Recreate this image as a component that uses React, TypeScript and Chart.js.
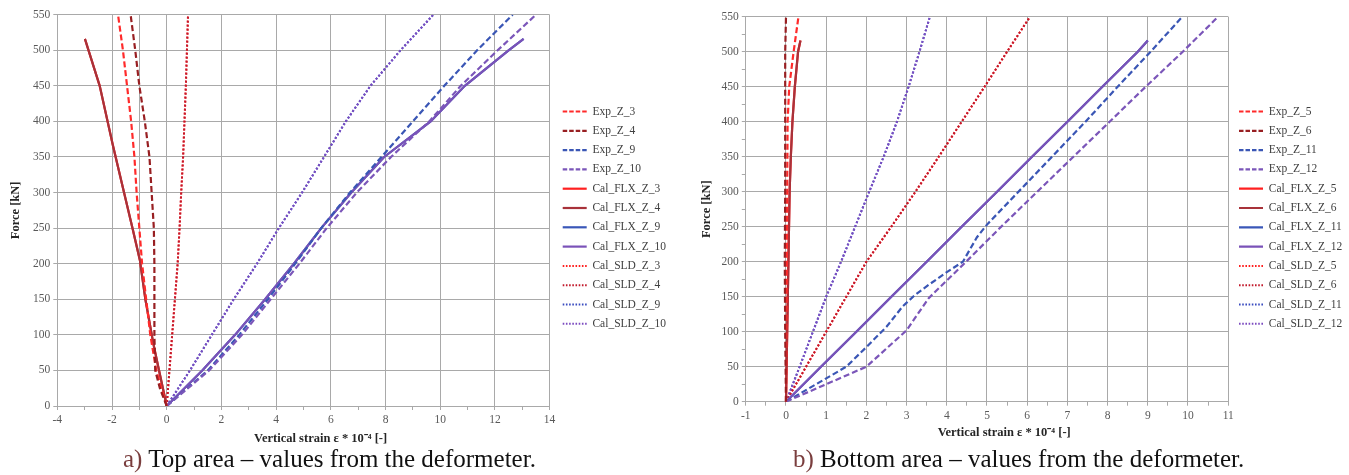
import React, { useEffect, useRef } from 'react';
import { Chart, registerables } from 'chart.js';

Chart.register(...registerables);

const FONT = "'Liberation Serif', 'Times New Roman', serif";

// ---------- tick labels ----------
const forceMajor = [0, 50, 100, 150, 200, 250, 300, 350, 400, 450, 500, 550];
const forceMinor = [25, 75, 125, 175, 225, 275, 325, 375, 425, 475, 525];
const topXMajor = [-4, -2, 0, 2, 4, 6, 8, 10, 12, 14];
const topXMinor = [-3, -1, 1, 3, 5, 7, 9, 11, 13];
const bottomXMajor = [-1, 0, 1, 2, 3, 4, 5, 6, 7, 8, 9, 10, 11];
const bottomXMinor = [-0.5, 0.5, 1.5, 2.5, 3.5, 4.5, 5.5, 6.5, 7.5, 8.5, 9.5, 10.5];

// ---------- a) Top area : [strain *10^-4, force kN] ----------
const topExpZ3: [number, number][] = [[0, 0], [-0.2, 25], [-0.38, 50], [-0.6, 100], [-0.75, 150], [-0.9, 200], [-1.0, 250], [-1.1, 300], [-1.18, 350], [-1.3, 400], [-1.45, 450], [-1.6, 500], [-1.78, 550]];
const topExpZ4: [number, number][] = [[0, 0], [-0.25, 25], [-0.42, 50], [-0.45, 100], [-0.45, 150], [-0.45, 200], [-0.47, 250], [-0.55, 300], [-0.63, 350], [-0.8, 400], [-1.0, 450], [-1.15, 500], [-1.32, 550]];
const topExpZ9: [number, number][] = [[0, 0], [1.5, 50], [2.65, 100], [3.7, 150], [4.7, 200], [5.65, 250], [6.7, 300], [7.85, 350], [9.0, 400], [10.15, 450], [11.35, 500], [12.65, 550]];
const topExpZ10: [number, number][] = [[0, 0], [1.55, 50], [2.75, 100], [3.8, 150], [4.85, 200], [5.85, 250], [6.95, 300], [8.2, 350], [9.6, 400], [10.75, 450], [12.1, 500], [13.5, 550]];
const topFlxZ3: [number, number][] = [[0, 0], [-0.28, 50], [-0.49, 88], [-0.78, 150], [-0.98, 205], [-1.25, 250], [-1.56, 300], [-1.97, 367], [-2.45, 450], [-2.99, 516]];
const topFlxZ4: [number, number][] = [[0, 0], [-0.28, 50], [-0.49, 88], [-0.78, 150], [-0.98, 205], [-1.25, 250], [-1.56, 300], [-1.97, 367], [-2.45, 450], [-2.99, 516]];
const topFlxZ9: [number, number][] = [[0, 0], [1.3, 50], [2.5, 100], [3.6, 150], [4.65, 200], [5.65, 250], [6.75, 300], [7.95, 350], [9.65, 400], [10.9, 450], [12.5, 500], [13.05, 516]];
const topFlxZ10: [number, number][] = [[0, 0], [1.3, 50], [2.5, 100], [3.6, 150], [4.65, 200], [5.65, 250], [6.75, 300], [7.95, 350], [9.65, 400], [10.9, 450], [12.5, 500], [13.05, 516]];
const topSldZ3: [number, number][] = [[0, 0], [0.1, 50], [0.2, 100], [0.3, 150], [0.4, 200], [0.47, 250], [0.53, 300], [0.6, 350], [0.65, 400], [0.7, 450], [0.74, 500], [0.78, 550]];
const topSldZ4: [number, number][] = [[0, 0], [0.1, 50], [0.2, 100], [0.3, 150], [0.4, 200], [0.47, 250], [0.53, 300], [0.6, 350], [0.65, 400], [0.7, 450], [0.74, 500], [0.78, 550]];
const topSldZ9: [number, number][] = [[0, 0], [0.85, 50], [1.65, 100], [2.45, 150], [3.3, 200], [4.1, 250], [4.95, 300], [5.75, 350], [6.55, 400], [7.45, 450], [8.55, 500], [9.75, 550]];
const topSldZ10: [number, number][] = [[0, 0], [0.85, 50], [1.65, 100], [2.45, 150], [3.3, 200], [4.1, 250], [4.95, 300], [5.75, 350], [6.55, 400], [7.45, 450], [8.55, 500], [9.75, 550]];

// ---------- b) Bottom area ----------
const botExpZ5: [number, number][] = [[0, 0], [0.01, 100], [0.02, 200], [0.03, 300], [0.04, 400], [0.08, 450], [0.19, 500], [0.31, 550]];
const botExpZ6: [number, number][] = [[0, 0], [-0.02, 100], [-0.03, 200], [-0.02, 300], [-0.02, 400], [-0.02, 500], [0, 550]];
const botExpZ11: [number, number][] = [[0, 0], [1.5, 50], [2.0, 78], [2.5, 107], [2.9, 136], [3.2, 152], [3.55, 167], [4.0, 185], [4.4, 200], [4.75, 235], [5.0, 253], [6.2, 325], [7.45, 400], [8.25, 450], [9.07, 500], [9.86, 550]];
const botExpZ12: [number, number][] = [[0, 0], [2.0, 50], [3.0, 102], [3.55, 148], [4.48, 200], [5.3, 247], [6.25, 300], [7.15, 350], [8.05, 400], [8.95, 450], [9.87, 500], [10.75, 550]];
const botFlxZ5: [number, number][] = [[0, 0], [0.03, 100], [0.06, 200], [0.09, 300], [0.12, 350], [0.16, 400], [0.22, 450], [0.3, 500], [0.36, 516]];
const botFlxZ6: [number, number][] = [[0, 0], [0.03, 100], [0.06, 200], [0.09, 300], [0.12, 350], [0.16, 400], [0.22, 450], [0.3, 500], [0.36, 516]];
const botFlxZ11: [number, number][] = [[0, 0], [0.87, 50], [1.75, 100], [2.62, 150], [3.5, 200], [4.37, 250], [5.25, 300], [6.12, 350], [7.0, 400], [7.87, 450], [8.75, 500], [9.0, 516]];
const botFlxZ12: [number, number][] = [[0, 0], [0.87, 50], [1.75, 100], [2.62, 150], [3.5, 200], [4.37, 250], [5.25, 300], [6.12, 350], [7.0, 400], [7.87, 450], [8.75, 500], [9.0, 516]];
const botSldZ5: [number, number][] = [[0, 0], [0.5, 50], [1.0, 100], [1.5, 150], [2.0, 200], [2.62, 250], [3.22, 300], [3.8, 350], [4.37, 400], [4.94, 450], [5.5, 500], [6.07, 550]];
const botSldZ6: [number, number][] = [[0, 0], [0.5, 50], [1.0, 100], [1.5, 150], [2.0, 200], [2.62, 250], [3.22, 300], [3.8, 350], [4.37, 400], [4.94, 450], [5.5, 500], [6.07, 550]];
const botSldZ11: [number, number][] = [[0, 0], [0.34, 50], [0.67, 100], [1.0, 150], [1.37, 200], [1.72, 250], [2.07, 300], [2.43, 350], [2.76, 400], [3.05, 450], [3.32, 500], [3.58, 550]];
const botSldZ12: [number, number][] = [[0, 0], [0.34, 50], [0.67, 100], [1.0, 150], [1.37, 200], [1.72, 250], [2.07, 300], [2.43, 350], [2.76, 400], [3.05, 450], [3.32, 500], [3.58, 550]];

// ---------- colours ----------
const EXP_RED = '#ff2a2a';
const EXP_DARK = '#981f22';
const EXP_BLUE = '#3a56b5';
const EXP_PURPLE = '#7b56b9';
const FLX_RED = '#ff2020';
const FLX_DARK = '#a8323a';
const FLX_BLUE = '#3a57b8';
const FLX_PURPLE = '#7a52b8';
const SLD_RED = '#ff2020';
const SLD_DARK = '#c21a2c';
const SLD_BLUE = '#3a4cc0';
const SLD_PURPLE = '#7c4cc0';
const GRID = '#a9a9a9';

type Kind = 'exp' | 'flx' | 'sld';
interface SeriesDef { label: string; pts: [number, number][]; color: string; kind: Kind; order: number }

const topSeries: SeriesDef[] = [
  { label: 'Exp_Z_3', pts: topExpZ3, color: EXP_RED, kind: 'exp', order: 2 },
  { label: 'Exp_Z_4', pts: topExpZ4, color: EXP_DARK, kind: 'exp', order: 1 },
  { label: 'Exp_Z_9', pts: topExpZ9, color: EXP_BLUE, kind: 'exp', order: 4 },
  { label: 'Exp_Z_10', pts: topExpZ10, color: EXP_PURPLE, kind: 'exp', order: 3 },
  { label: 'Cal_FLX_Z_3', pts: topFlxZ3, color: FLX_RED, kind: 'flx', order: 10 },
  { label: 'Cal_FLX_Z_4', pts: topFlxZ4, color: FLX_DARK, kind: 'flx', order: 9 },
  { label: 'Cal_FLX_Z_9', pts: topFlxZ9, color: FLX_BLUE, kind: 'flx', order: 10 },
  { label: 'Cal_FLX_Z_10', pts: topFlxZ10, color: FLX_PURPLE, kind: 'flx', order: 9 },
  { label: 'Cal_SLD_Z_3', pts: topSldZ3, color: SLD_RED, kind: 'sld', order: 12 },
  { label: 'Cal_SLD_Z_4', pts: topSldZ4, color: SLD_DARK, kind: 'sld', order: 11 },
  { label: 'Cal_SLD_Z_9', pts: topSldZ9, color: SLD_BLUE, kind: 'sld', order: 12 },
  { label: 'Cal_SLD_Z_10', pts: topSldZ10, color: SLD_PURPLE, kind: 'sld', order: 11 },
];

const bottomSeries: SeriesDef[] = [
  { label: 'Exp_Z_5', pts: botExpZ5, color: EXP_RED, kind: 'exp', order: 2 },
  { label: 'Exp_Z_6', pts: botExpZ6, color: EXP_DARK, kind: 'exp', order: 1 },
  { label: 'Exp_Z_11', pts: botExpZ11, color: EXP_BLUE, kind: 'exp', order: 4 },
  { label: 'Exp_Z_12', pts: botExpZ12, color: EXP_PURPLE, kind: 'exp', order: 3 },
  { label: 'Cal_FLX_Z_5', pts: botFlxZ5, color: FLX_RED, kind: 'flx', order: 10 },
  { label: 'Cal_FLX_Z_6', pts: botFlxZ6, color: FLX_DARK, kind: 'flx', order: 9 },
  { label: 'Cal_FLX_Z_11', pts: botFlxZ11, color: FLX_BLUE, kind: 'flx', order: 10 },
  { label: 'Cal_FLX_Z_12', pts: botFlxZ12, color: FLX_PURPLE, kind: 'flx', order: 9 },
  { label: 'Cal_SLD_Z_5', pts: botSldZ5, color: SLD_RED, kind: 'sld', order: 12 },
  { label: 'Cal_SLD_Z_6', pts: botSldZ6, color: SLD_DARK, kind: 'sld', order: 11 },
  { label: 'Cal_SLD_Z_11', pts: botSldZ11, color: SLD_BLUE, kind: 'sld', order: 12 },
  { label: 'Cal_SLD_Z_12', pts: botSldZ12, color: SLD_PURPLE, kind: 'sld', order: 11 },
];

const CHART_DASH: Record<Kind, number[]> = { exp: [6, 3], flx: [], sld: [2, 2] };
const LEGEND_DASH: Record<Kind, number[]> = { exp: [4.5, 2], flx: [], sld: [1.6, 1.6] };

function toDataset(s: SeriesDef) {
  return {
    label: s.label,
    data: s.pts.map(([x, y]) => ({ x, y })),
    borderColor: s.color,
    backgroundColor: s.color,
    borderWidth: s.kind === 'sld' ? 2 : 2.2,
    borderDash: CHART_DASH[s.kind],
    borderCapStyle: 'butt',
    pointRadius: 0,
    pointHoverRadius: 0,
    tension: 0,
    fill: false,
    showLine: true,
    order: s.order,
  };
}

const has = (arr: number[], v: number) => arr.some((m) => Math.abs(m - v) < 1e-9);

interface PanelProps {
  series: SeriesDef[];
  left: number;
  width: number;
  height: number;
  xMin: number;
  xMax: number;
  xMajor: number[];
  xMinor: number[];
  xExtraGrid: number[];
  yMinor: number[];
  padTop: number;
  padRight: number;
  yAxisWidth: number;
  xAxisHeight: number;
  yTitlePad: number;
  legendX: number;
  legendY: number;
}

const LEGEND_FONT = 11.5;
const LEGEND_PAD = 7.8;

function Panel(p: PanelProps) {
  const ref = useRef<HTMLCanvasElement>(null);
  useEffect(() => {
    const canvas = ref.current;
    if (!canvas) return;
    const legendPlacer = {
      id: 'legendPlacer',
      afterLayout(chart: any) {
        const lg = chart.legend;
        if (!lg) return;
        lg.left = p.legendX - LEGEND_PAD;
        lg.right = lg.left + 140;
        lg.top = p.legendY - LEGEND_FONT / 2 - LEGEND_PAD;
        lg.bottom = lg.top + 320;
        lg.width = 140;
        lg.height = 320;
      },
    };
    const xTicks = [...p.xMajor, ...p.xMinor].sort((a, b) => a - b);
    const yTicks = [...forceMajor, ...p.yMinor].sort((a, b) => a - b);
    const baseGen = (Chart as any).defaults.plugins.legend.labels.generateLabels;
    const chart = new Chart(canvas, {
      type: 'line',
      data: { datasets: p.series.map(toDataset) as any },
      options: {
        responsive: false,
        animation: false,
        events: [],
        layout: { padding: { top: p.padTop, right: p.padRight, bottom: 0, left: 0 } },
        plugins: {
          tooltip: { enabled: false },
          legend: {
            position: 'right',
            align: 'start',
            maxWidth: 60,
            labels: {
              usePointStyle: true,
              pointStyle: 'line',
              pointStyleWidth: 24,
              padding: LEGEND_PAD,
              color: '#404040',
              font: { family: FONT, size: LEGEND_FONT },
              sort: (a: any, b: any) => a.datasetIndex - b.datasetIndex,
              generateLabels: (ch: any) =>
                baseGen(ch).map((item: any) => {
                  const s = p.series[item.datasetIndex];
                  return {
                    ...item,
                    pointStyle: 'line',
                    strokeStyle: s.color,
                    fillStyle: s.color,
                    lineWidth: s.kind === 'sld' ? 2 : 2.2,
                    lineDash: LEGEND_DASH[s.kind],
                    lineCap: 'butt',
                  };
                }),
            },
          },
        },
        scales: {
          x: {
            type: 'linear',
            min: p.xMin,
            max: p.xMax,
            afterBuildTicks: (sc: any) => {
              sc.ticks = xTicks.map((v) => ({ value: v }));
            },
            afterFit: (sc: any) => {
              sc.height = p.xAxisHeight;
            },
            ticks: {
              autoSkip: false,
              maxRotation: 0,
              padding: 3,
              color: '#595959',
              font: { family: FONT, size: 11.5 },
              callback: (v: any) => (has(p.xMajor, Number(v)) ? String(v) : ''),
            },
            grid: {
              color: (c: any) =>
                c.tick && (has(p.xMajor, c.tick.value) || has(p.xExtraGrid, c.tick.value)) ? GRID : 'rgba(0,0,0,0)',
              tickColor: GRID,
              tickLength: 4,
              lineWidth: 1,
            },
            border: { color: GRID },
            title: {
              display: true,
              text: '           Vertical strain ε * 10⁻⁴ [-]',
              color: '#262626',
              font: { family: FONT, size: 12.5, weight: 'bold' },
              padding: { top: 0, bottom: 0 },
            },
          },
          y: {
            type: 'linear',
            min: 0,
            max: 550,
            afterBuildTicks: (sc: any) => {
              sc.ticks = yTicks.map((v) => ({ value: v }));
            },
            afterFit: (sc: any) => {
              sc.width = p.yAxisWidth;
            },
            ticks: {
              autoSkip: false,
              padding: 3,
              color: '#595959',
              font: { family: FONT, size: 11.5 },
              callback: (v: any) => (has(forceMajor, Number(v)) ? String(v) : ''),
            },
            grid: {
              color: (c: any) => (c.tick && has(forceMajor, c.tick.value) ? GRID : 'rgba(0,0,0,0)'),
              tickColor: GRID,
              tickLength: 4,
              lineWidth: 1,
            },
            border: { color: GRID },
            title: {
              display: true,
              text: 'Force [kN]',
              color: '#262626',
              font: { family: FONT, size: 12.5, weight: 'bold' },
              padding: { top: p.yTitlePad, bottom: 0 },
            },
          },
        },
      } as any,
      plugins: [legendPlacer],
    });
    return () => chart.destroy();
  }, []);
  return (
    <canvas
      ref={ref}
      width={p.width}
      height={p.height}
      style={{ position: 'absolute', left: p.left, top: 0, width: p.width, height: p.height, display: 'block' }}
    />
  );
}

const captionStyle: React.CSSProperties = {
  position: 'absolute',
  top: 446,
  fontFamily: FONT,
  fontSize: 25,
  lineHeight: '25px',
  whiteSpace: 'nowrap',
  color: '#111',
};

export default function App() {
  return (
    <div style={{ position: 'fixed', left: 0, top: 0, width: 1349, height: 475, background: '#fff', overflow: 'hidden' }}>
      <Panel
        series={topSeries}
        left={0}
        width={680}
        height={446}
        xMin={-4}
        xMax={14}
        xMajor={topXMajor}
        xMinor={topXMinor}
        xExtraGrid={[-1]}
        yMinor={[]}
        padTop={14.7}
        padRight={70.4}
        yAxisWidth={57.3}
        xAxisHeight={40}
        yTitlePad={8.5}
        legendX={562.7}
        legendY={111.5}
      />
      <Panel
        series={bottomSeries}
        left={680}
        width={669}
        height={440}
        xMin={-1}
        xMax={11}
        xMajor={bottomXMajor}
        xMinor={bottomXMinor}
        xExtraGrid={[]}
        yMinor={forceMinor}
        padTop={16.7}
        padRight={60.8}
        yAxisWidth={65.8}
        xAxisHeight={38.3}
        yTitlePad={19.5}
        legendX={559}
        legendY={111.5}
      />
      <div style={{ ...captionStyle, left: 123 }}>
        <span style={{ color: '#7a3e3e' }}>a)</span> Top area – values from the deformeter.
      </div>
      <div style={{ ...captionStyle, left: 793 }}>
        <span style={{ color: '#7a3e3e' }}>b)</span> Bottom area – values from the deformeter.
      </div>
    </div>
  );
}
